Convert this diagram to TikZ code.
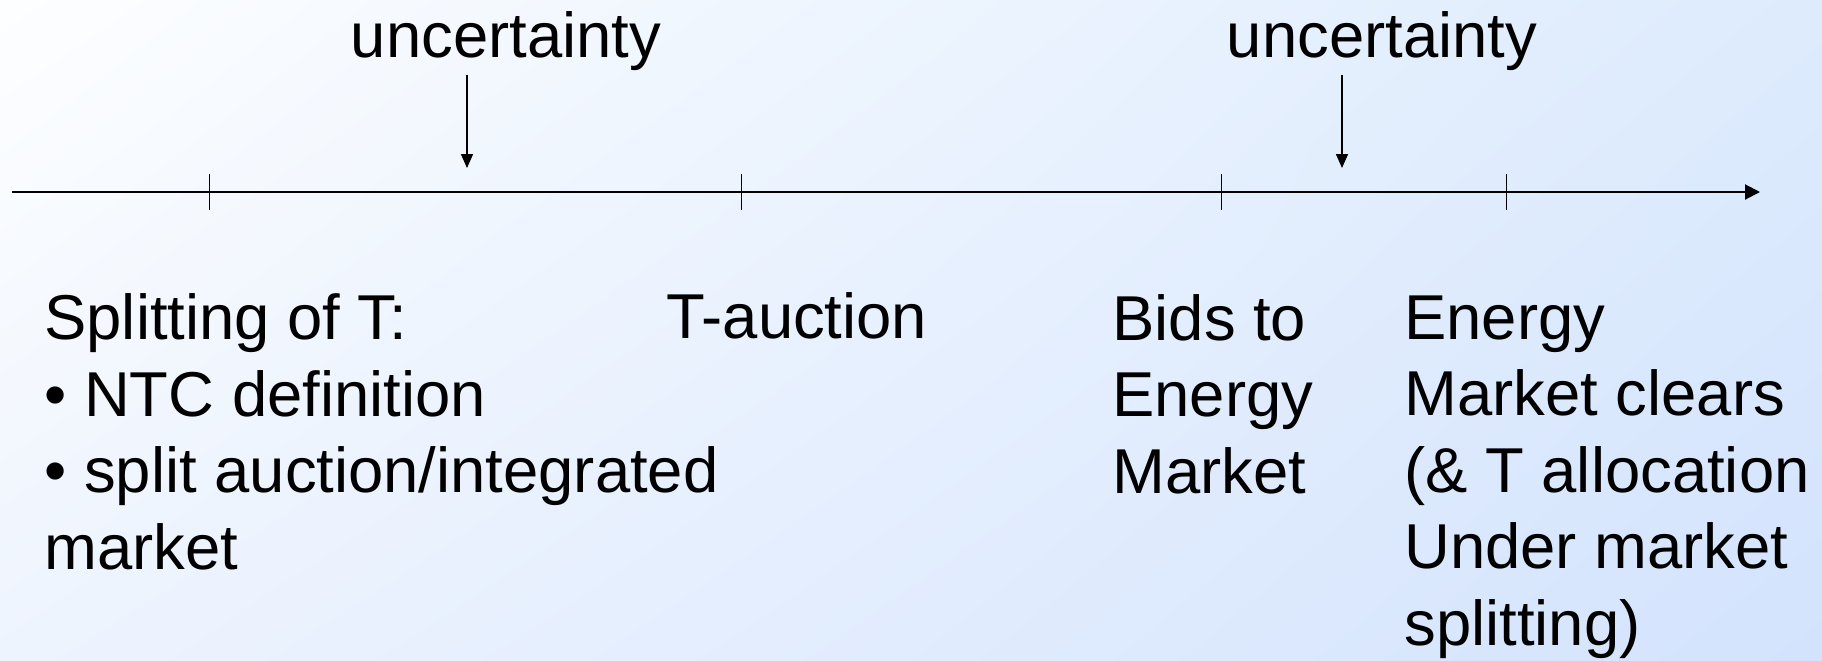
\documentclass[tikz,border=0pt]{standalone}
\usepackage{fontspec}
\setmainfont{Liberation Sans}
\usetikzlibrary{arrows.meta,shadings}
\definecolor{bgtl}{HTML}{FDFEFF}
\definecolor{bgtr}{HTML}{DDEBFD}
\definecolor{bgbl}{HTML}{EEF4FE}
\definecolor{bgbr}{HTML}{D3E3FD}
\tikzset{
  lbl/.style={inner sep=0pt,anchor=base west,align=left,
    font=\fontsize{31.7}{38.2}\selectfont},
  tick/.style={line width=0.5pt},
  uncarrow/.style={line width=0.75pt,-{Triangle[length=7pt,width=6pt]}}
}

\begin{document}
\begin{tikzpicture}[x=0.5pt,y=-0.5pt]
      \useasboundingbox (0,0) rectangle (1822,660);
      \shade[upper left=bgtl,upper right=bgtr,lower left=bgbl,lower right=bgbr]
        (0,0) rectangle (1822,660);
      % time axis
      \coordinate (start) at (12,192);
      \coordinate (stop) at (1760,192);
      \draw[line width=1pt,-{Triangle[length=7.5pt,width=7.5pt]}] (start) -- (stop);
      \foreach \x/\n in {209/t1,741/t2,1221/t3,1506/t4}
        \draw[tick] (\x,174) coordinate (\n) -- (\x,210);
      % uncertainty
      \node[lbl,anchor=base] (unc1) at (506,57) {uncertainty};
      \node[lbl,anchor=base] (unc2) at (1382,57) {uncertainty};
      \coordinate (u1) at (467,168);
      \coordinate (u2) at (1342,168);
      \draw[uncarrow] (unc1.south -| u1) ++(0,4) -- (u1);
      \draw[uncarrow] (unc2.south -| u2) ++(0,4) -- (u2);
      % events (base = last line)
      \node[lbl] (split) at (44,569) {Splitting of T:\\%
        • NTC definition\\• split auction/integrated\\market};
      \node[lbl] (tauct) at (666,338) {T-auction};
      \node[lbl] (bids) at (1112,493) {Bids to\\Energy\\Market};
      \node[lbl] (clears) at (1404,645) {Energy\\Market clears\\%
        (\& T allocation\\Under market\\splitting)};
    \end{tikzpicture}
\end{document}
